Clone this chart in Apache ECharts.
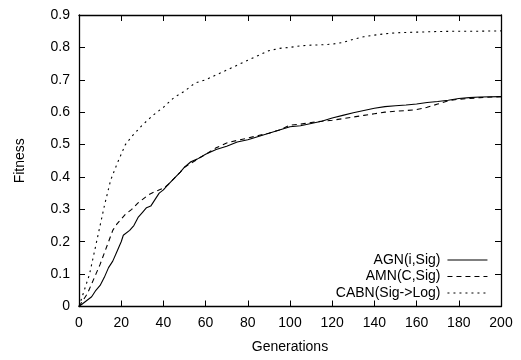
<!DOCTYPE html>
<html>
<head>
<meta charset="utf-8">
<script src="https://cdn.jsdelivr.net/npm/echarts@6/dist/echarts.min.js"></script>
<style>
  html, body { margin: 0; padding: 0; background: #fff; }
  #chart { width: 521px; height: 360px; }
</style>
</head>
<body>
<div id="chart"></div>
<script>
// generations and fitness values
const genAGN = [0, 2, 4, 6, 8, 10, 12, 14, 16, 18, 20, 21, 24, 26, 28, 30, 32, 34, 36, 38, 40, 42, 45, 48, 50, 53, 56, 60, 65, 70, 75, 80, 85, 90, 95, 100, 105, 110, 115, 120, 125, 130, 135, 140, 145, 150, 155, 160, 165, 170, 175, 180, 185, 190, 200];
const agn = [0, 0.01, 0.02, 0.03, 0.05, 0.065, 0.09, 0.12, 0.14, 0.17, 0.2, 0.22, 0.235, 0.25, 0.275, 0.29, 0.305, 0.31, 0.33, 0.35, 0.36, 0.375, 0.395, 0.415, 0.43, 0.447, 0.455, 0.47, 0.485, 0.495, 0.508, 0.515, 0.525, 0.535, 0.545, 0.555, 0.558, 0.565, 0.572, 0.582, 0.59, 0.598, 0.605, 0.612, 0.617, 0.62, 0.622, 0.625, 0.63, 0.633, 0.637, 0.642, 0.645, 0.647, 0.648];

const genAMN = [0, 2, 4, 6, 8, 10, 12, 14, 16, 18, 20, 22, 25, 28, 30, 33, 36, 40, 42, 45, 48, 50, 55, 60, 65, 70, 75, 80, 85, 90, 95, 100, 105, 110, 115, 120, 125, 130, 135, 140, 145, 150, 155, 160, 165, 170, 175, 180, 185, 190, 200];
const amn = [0, 0.02, 0.04, 0.07, 0.1, 0.13, 0.165, 0.2, 0.235, 0.255, 0.27, 0.285, 0.3, 0.32, 0.33, 0.345, 0.355, 0.365, 0.375, 0.395, 0.415, 0.43, 0.45, 0.47, 0.49, 0.505, 0.513, 0.52, 0.528, 0.535, 0.545, 0.56, 0.563, 0.568, 0.572, 0.575, 0.58, 0.585, 0.59, 0.595, 0.6, 0.603, 0.605, 0.608, 0.615, 0.625, 0.635, 0.64, 0.642, 0.645, 0.648];

const genCABN = [0, 2, 5, 8, 10, 12, 15, 18, 20, 22, 25, 30, 35, 40, 45, 50, 55, 60, 65, 70, 75, 80, 85, 90, 95, 100, 105, 110, 115, 120, 125, 130, 135, 140, 145, 150, 160, 170, 180, 190, 200];
const cabn = [0, 0.04, 0.1, 0.19, 0.25, 0.31, 0.39, 0.44, 0.47, 0.5, 0.525, 0.56, 0.59, 0.615, 0.645, 0.665, 0.69, 0.7, 0.715, 0.73, 0.745, 0.76, 0.775, 0.79, 0.797, 0.8, 0.805, 0.807, 0.808, 0.81, 0.815, 0.825, 0.833, 0.838, 0.842, 0.845, 0.847, 0.849, 0.85, 0.85, 0.851];

const names = ["AGN(i,Sig)", "AMN(C,Sig)", "CABN(Sig->Log)"];

function pairs(xs, ys) {
  return xs.map((x, i) => [x, ys[i]]);
}

const font = "Liberation Sans";
let chart = echarts.init(document.getElementById("chart"));

const axisLine = { show: true, onZero: false, lineStyle: { color: "#000", width: 1.3 } };
const axisTick = { show: true, inside: true, length: 6, lineStyle: { color: "#000" } };

let option = {
  animation: false,
  textStyle: { fontFamily: font },
  grid: { left: 79, right: 20, top: 15, bottom: 53.5 },
  legend: {
    data: names,
    orient: "vertical",
    right: 28,
    bottom: 55,
    align: "right",
    itemWidth: 40,
    itemHeight: 12,
    itemGap: 2.5,
    // hide the marker dot, keep the line sample
    itemStyle: { opacity: 0 },
    lineStyle: { width: 1.1 },
    textStyle: { fontSize: 14, color: "#000", fontFamily: font, width: 118, align: "right", padding: [0, 2, 0, 0] }
  },
  xAxis: [
    {
      type: "value",
      min: 0, max: 200, interval: 20,
      name: "Generations",
      nameLocation: "middle",
      nameGap: 34,
      nameTextStyle: { fontSize: 14, color: "#000" },
      axisLine: axisLine,
      axisTick: axisTick,
      axisLabel: { fontSize: 14, color: "#000", margin: 10 },
      splitLine: { show: false }
    },
    {
      type: "value",
      position: "top",
      min: 0, max: 200, interval: 20,
      axisLine: axisLine,
      axisTick: axisTick,
      axisLabel: { show: false },
      splitLine: { show: false }
    }
  ],
  yAxis: [
    {
      type: "value",
      min: 0, max: 0.9, interval: 0.1,
      name: "Fitness",
      nameLocation: "middle",
      nameGap: 52,
      nameTextStyle: { fontSize: 14, color: "#000" },
      axisLine: axisLine,
      axisTick: axisTick,
      axisLabel: { fontSize: 14, color: "#000", margin: 9 },
      splitLine: { show: false }
    },
    {
      type: "value",
      position: "right",
      min: 0, max: 0.9, interval: 0.1,
      axisLine: axisLine,
      axisTick: axisTick,
      axisLabel: { show: false },
      splitLine: { show: false }
    }
  ],
  series: [
    {
      name: names[0],
      type: "line",
      data: pairs(genAGN, agn),
      symbol: "none",
      color: "#000",
      lineStyle: { color: "#000", width: 1.1, type: "solid" }
    },
    {
      name: names[1],
      type: "line",
      data: pairs(genAMN, amn),
      symbol: "none",
      color: "#000",
      lineStyle: { color: "#000", width: 1.1, type: [5, 4] }
    },
    {
      name: names[2],
      type: "line",
      data: pairs(genCABN, cabn),
      symbol: "none",
      color: "#000",
      lineStyle: { color: "#000", width: 1.1, type: [2, 4] }
    }
  ]
};

chart.setOption(option);
</script>
</body>
</html>
